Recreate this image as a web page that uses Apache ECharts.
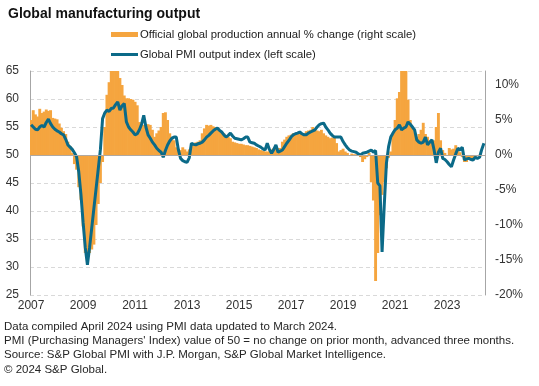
<!DOCTYPE html>
<html>
<head>
<meta charset="utf-8">
<script src="https://cdn.jsdelivr.net/npm/echarts@6/dist/echarts.min.js"></script>
<style>
html,body{margin:0;padding:0;background:#fff;}
#chart{width:539px;height:386px;}
</style>
</head>
<body>
<div id="chart"></div>
<script>
// Monthly categories Jan 2007 .. Jun 2024
var startYear = 2007, monthsCount = 210;
var labelYears = ['2007','2009','2011','2013','2015','2017','2019','2021','2023'];
var leftTicks = {min: 25, max: 65, interval: 5};
var rightTicks = {min: -20, max: 12, interval: 5};

// Global PMI output index (left scale), advanced three months, Jan 2007 .. Jun 2024
var pmiOutput = [
55.4,55.0,54.6,54.5,55.0,55.3,55.0,55.8,56.4,55.6,55.0,54.6,
54.3,54.1,53.8,53.6,52.8,51.8,51.4,51.0,50.4,49.7,47.0,43.0,
38.0,33.5,30.4,33.5,37.0,40.5,44.0,47.5,51.0,56.5,57.5,58.0,
57.8,58.3,58.4,59.0,59.5,58.0,58.8,59.2,55.9,55.0,54.5,54.1,
53.6,53.8,54.5,55.5,57.1,55.0,53.6,53.0,52.3,51.8,51.2,50.8,
50.5,49.6,50.8,51.8,52.5,53.0,53.2,53.2,50.9,49.4,49.0,48.8,
48.7,49.5,52.1,51.9,51.8,52.0,52.1,52.3,52.7,53.2,53.5,53.9,
54.3,54.6,54.8,54.4,54.1,53.6,53.2,53.5,53.9,53.4,53.0,52.9,
52.8,52.7,52.9,53.2,53.2,52.3,52.2,52.1,51.8,51.6,51.4,51.1,
50.9,52.1,51.0,50.3,51.0,51.8,50.5,50.7,50.9,51.5,52.1,52.6,
53.2,53.6,53.8,53.9,54.1,53.8,53.6,53.6,53.9,54.1,54.3,54.5,
55.0,55.4,55.6,55.7,55.0,54.5,53.9,53.5,53.2,53.2,53.2,53.2,
52.4,51.8,51.3,50.9,50.7,50.6,50.5,50.2,50.0,50.3,50.4,50.5,
50.7,50.9,50.5,50.8,45.0,44.5,32.7,41.0,48.5,51.5,53.2,53.9,
54.5,54.8,55.4,54.5,54.8,55.0,55.9,55.5,55.0,54.5,52.7,52.3,
52.1,52.3,53.2,51.8,52.3,52.7,50.9,48.6,50.5,51.2,49.4,49.2,
48.8,48.3,47.9,49.1,50.2,51.2,50.9,51.4,49.1,49.3,49.4,49.2,
49.1,49.6,49.4,49.6,51.0,52.1
];

// Official global production, annual % change (right scale), Jan 2007 .. Feb 2024
var productionYoY = [
5.0,6.4,5.8,5.5,6.6,6.0,6.2,6.5,6.3,6.4,5.3,5.2,
5.1,4.5,3.9,3.4,3.0,1.9,1.3,0.3,-1.3,-2.1,-4.6,-6.4,
-10.2,-14.0,-14.6,-14.0,-13.5,-12.8,-10.0,-7.0,-4.0,-1.0,4.0,8.6,
10.4,13.0,14.0,14.5,13.0,11.0,10.0,8.5,8.1,8.1,8.0,7.9,
7.6,7.1,4.7,4.5,4.3,4.4,4.4,4.3,3.6,2.6,3.1,3.5,
4.0,6.0,6.1,5.0,3.1,2.5,2.1,1.1,0.9,0.7,1.1,0.8,
0.5,0.8,1.2,1.7,1.8,1.9,2.1,3.1,3.8,4.3,4.2,4.3,
4.1,4.0,3.9,3.4,3.2,3.1,2.8,2.6,2.4,1.9,1.8,1.7,
1.6,1.6,1.5,1.4,1.4,1.3,1.2,1.1,1.0,0.8,0.7,0.6,
0.5,0.5,0.5,0.8,1.0,1.0,1.0,1.0,1.9,2.2,2.6,2.8,
2.9,3.1,3.1,3.1,3.1,3.1,3.1,3.4,3.5,3.6,4.0,3.7,
3.5,3.4,3.6,3.1,2.8,2.6,2.4,2.5,2.6,1.7,0.5,0.7,
0.9,0.5,0.3,0.0,0.2,0.1,0.1,0.1,-0.3,-1.0,-0.6,-0.3,
0.3,-3.9,-6.5,-18.0,-14.0,-8.6,-5.7,-3.9,-1.9,-0.4,0.5,2.9,
5.0,8.1,9.0,16.0,14.0,12.5,7.9,5.0,3.9,3.2,2.6,3.0,
3.6,4.6,3.0,2.6,1.7,1.9,2.1,4.0,6.0,2.1,0.7,0.3,
0.0,1.0,0.8,0.9,1.4,1.0,0.4,-0.3,-1.0,-1.0,-0.6,-0.5,
-0.5,-0.3
];

var seriesNames = ['Official global production annual % change (right scale)', 'Global PMI output index (left scale)'];
var footnotes = [
  'Data compiled April 2024 using PMI data updated to March 2024.',
  "PMI (Purchasing Managers' Index) value of 50 = no change on prior month, advanced three months.",
  'Source: S&P Global PMI with J.P. Morgan, S&P Global Market Intelligence.',
  '\u00A9 2024 S&P Global.'
];

var months = [];
for (var i = 0; i < monthsCount; i++) {
  var y = startYear + Math.floor(i / 12), mo = (i % 12) + 1;
  months.push(y + '-' + (mo < 10 ? '0' + mo : mo));
}
function isLabel(v) {
  return v.slice(5) === '01' && labelYears.indexOf(v.slice(0, 4)) >= 0;
}

var FONT = '"Liberation Sans", Arial, sans-serif';
var ORANGE = '#F5A53F', TEAL = '#0B6A88';

var chart = echarts.init(document.getElementById('chart'), null, {renderer: 'canvas'});
var footGraphics = footnotes.map(function (t, k) {
  return {type: 'text', left: 4, top: 320.5 + k * 14.4,
    style: {text: t, font: '11.5px ' + FONT, fill: '#262626'}};
});

chart.setOption({
  animation: false,
  backgroundColor: '#fff',
  title: {text: 'Global manufacturing output', left: 3, top: 2,
    textStyle: {fontFamily: FONT, fontSize: 14, fontWeight: 'bold', color: '#111'}},
  legend: [
    {data: [{name: seriesNames[0], icon: 'rect'}], left: 106, top: 24, itemWidth: 27, itemHeight: 5, itemGap: 3,
      textStyle: {fontFamily: FONT, fontSize: 11.3, color: '#222', padding: [0, 0, 0, -3]}},
    {data: [{name: seriesNames[1], icon: 'rect', itemStyle: {color: TEAL}}], left: 106, top: 44, itemWidth: 27, itemHeight: 3,
      textStyle: {fontFamily: FONT, fontSize: 11.3, color: '#222', padding: [0, 0, 0, -3]}}
  ],
  graphic: footGraphics,
  grid: {left: 30, right: 54, top: 71, bottom: 91, containLabel: false},
  xAxis: {
    type: 'category', data: months, boundaryGap: true,
    axisLine: {show: false}, axisTick: {show: false},
    splitLine: {show: false},
    axisLabel: {
      interval: function (idx, v) { return isLabel(v); },
      formatter: function (v) { return v.slice(0, 4); },
      fontFamily: FONT, fontSize: 12, color: '#333', margin: 5
    }
  },
  yAxis: [
    {type: 'value', min: leftTicks.min, max: leftTicks.max, interval: leftTicks.interval, position: 'left',
      axisLine: {show: true, lineStyle: {color: '#a6a6a6', width: 1}}, axisTick: {show: false},
      axisLabel: {fontFamily: FONT, fontSize: 12, color: '#333', margin: 11},
      splitLine: {show: true, lineStyle: {color: '#d9d9d9', type: [4, 3], width: 1}}},
    {type: 'value', min: rightTicks.min, max: rightTicks.max, interval: rightTicks.interval, position: 'right',
      axisLine: {show: true, lineStyle: {color: '#a6a6a6', width: 1}}, axisTick: {show: false},
      axisLabel: {fontFamily: FONT, fontSize: 12, color: '#333', margin: 10, showMaxLabel: false,
        formatter: function (v) { return v + '%'; }},
      splitLine: {show: false}}
  ],
  series: [
    {name: seriesNames[0], type: 'bar', yAxisIndex: 1, data: productionYoY,
      barWidth: 2.9, barGap: '-100%', clip: true,
      itemStyle: {color: ORANGE},
      markLine: {silent: true, symbol: 'none', label: {show: false},
        lineStyle: {color: '#b0a8a0', type: 'solid', width: 1},
        data: [{yAxis: 0}]}, z: 2},
    {name: seriesNames[1], type: 'line', yAxisIndex: 0, data: pmiOutput,
      symbol: 'none', smooth: false, lineStyle: {color: TEAL, width: 3}, itemStyle: {color: TEAL}, z: 3}
  ]
});
</script>
</body>
</html>
